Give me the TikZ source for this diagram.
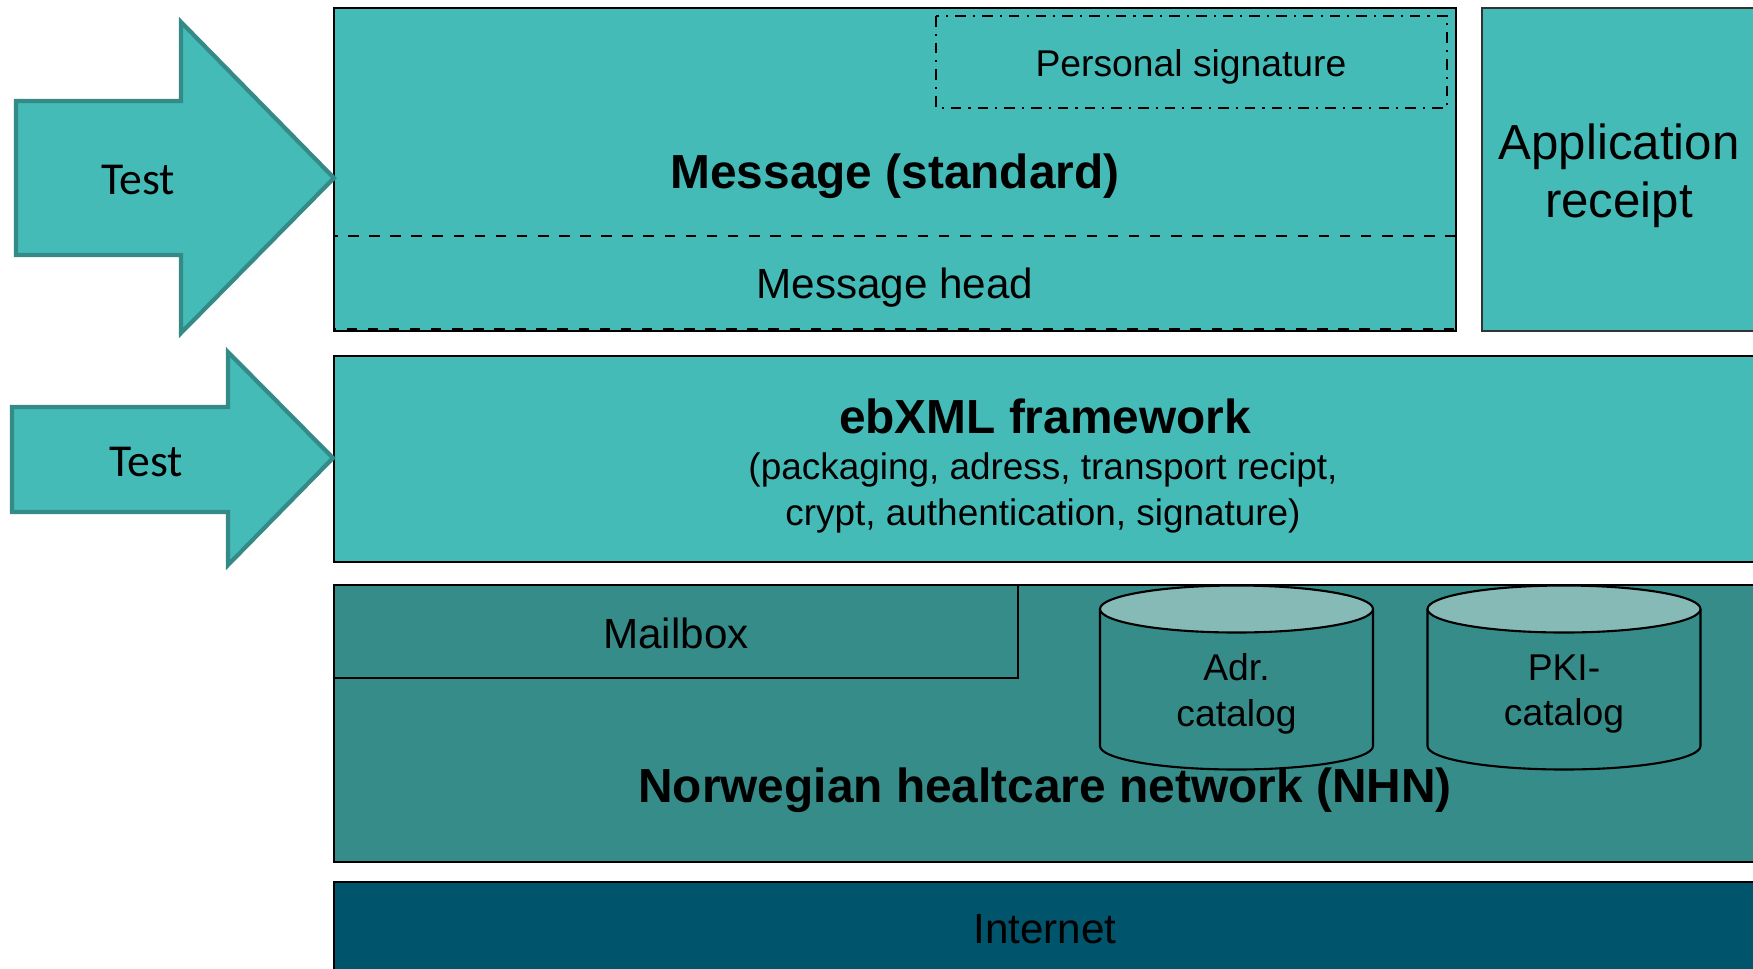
\documentclass[tikz,border=0pt]{standalone}
\usepackage{fontspec}
\setmainfont{Liberation Sans}
\newfontfamily\calibrifont{Carlito}
\usepackage{tikz}
\usetikzlibrary{shapes,arrows}
\usepackage{xcolor}
\definecolor{layerlight}{HTML}{45BBB8}
\definecolor{layerdark}{HTML}{358C89}
\definecolor{arrowedge}{HTML}{348A87}
\definecolor{cyltop}{HTML}{86BAB7}
\definecolor{netblue}{HTML}{00546C}

\begin{document}
\begin{tikzpicture}[x=0.01cm,y=-0.01cm,
	layer/.style={draw=black,line width=0.6pt},
	testarrow/.style={fill=layerlight,draw=arrowedge,line width=1.2pt,line join=miter},
	title/.style={font=\fontsize{13.6}{16}\selectfont\bfseries},
	label/.style={font=\fontsize{12}{14}\selectfont},
	small/.style={font=\fontsize{10.6}{13}\selectfont,align=center},
	testlabel/.style={font=\calibrifont\fontsize{13}{15}\selectfont}]
		\def\xl{334}
		\def\xr{1760}
		\def\rx{136.5}
		\def\ry{23.5}
		\def\ctop{609}
		\def\cbot{746}
		\clip (0,0) rectangle (1753,969);
		\fill[white] (0,0) rectangle (1753,969);
		% message layer
		\draw[layer,fill=layerlight] (\xl,8) rectangle (1456,331);
		\draw[line width=0.6pt,dash dot] (936,16) rectangle (1447,108);
		\draw[line width=0.6pt,dashed] (\xl,236) rectangle (1456,329);
		\node[small] (sig) at (1191,67) {Personal signature};
		\node[title] (msg) at (895,176) {Message (standard)};
		\node[label] (head) at (895,288) {Message head};
		% application receipt
		\draw[line width=0.6pt,draw=black!80,fill=layerlight] (1482,8) rectangle (\xr,331);
		\node[font=\fontsize{14}{16.5}\selectfont,align=center] (receipt) at (1619,176) {Application\\receipt};
		% ebXML layer
		\draw[layer,fill=layerlight] (\xl,356) rectangle (\xr,562);
		\node[title] (ebxml) at (1045,416) {ebXML framework};
		\node[small,font=\fontsize{10.5}{13}\selectfont] (ebxmltxt) at (1043,493) {(packaging, adress, transport recipt,\\ crypt, authentication, signature)};
		% NHN layer
		\draw[layer,fill=layerdark] (\xl,585) rectangle (\xr,862);
		\draw[layer] (\xl,678) -- (1018,678) -- (1018,585);
		\node[label] (mailbox) at (676,633) {Mailbox};
		\foreach \cx/\nm/\txt in {1236.5/adr/Adr.\\catalog,1564/pki/PKI-\\catalog}{
			\draw[line width=0.6pt,fill=layerdark] (\cx-\rx,\ctop) -- (\cx-\rx,\cbot) arc[start angle=180,end angle=360,x radius=\rx,y radius=-\ry] -- (\cx+\rx,\ctop);
			\draw[line width=0.6pt,fill=cyltop] (\cx,\ctop) ellipse[x radius=\rx,y radius=\ry];
			\node[small] (\nm) at (\cx,694) {\txt};
		}
		\node[title] (nhn) at (1045,790) {Norwegian healtcare network (NHN)};
		% internet layer
		\draw[layer,fill=netblue] (\xl,882) rectangle (\xr,990);
		\node[label] (inet) at (1045,929) {Internet};
		% test arrows
		\draw[testarrow] (16,101) -- (181,101) -- (181,22) -- (334,178) -- (181,333) -- (181,255) -- (16,255) -- cycle;
		\node[testlabel] (testa) at (138,180) {Test};
		\draw[testarrow] (12,407) -- (228,407) -- (228,352) -- (333,458) -- (228,565) -- (228,512) -- (12,512) -- cycle;
		\node[testlabel] (testb) at (146,462) {Test};
		\end{tikzpicture}
\end{document}
